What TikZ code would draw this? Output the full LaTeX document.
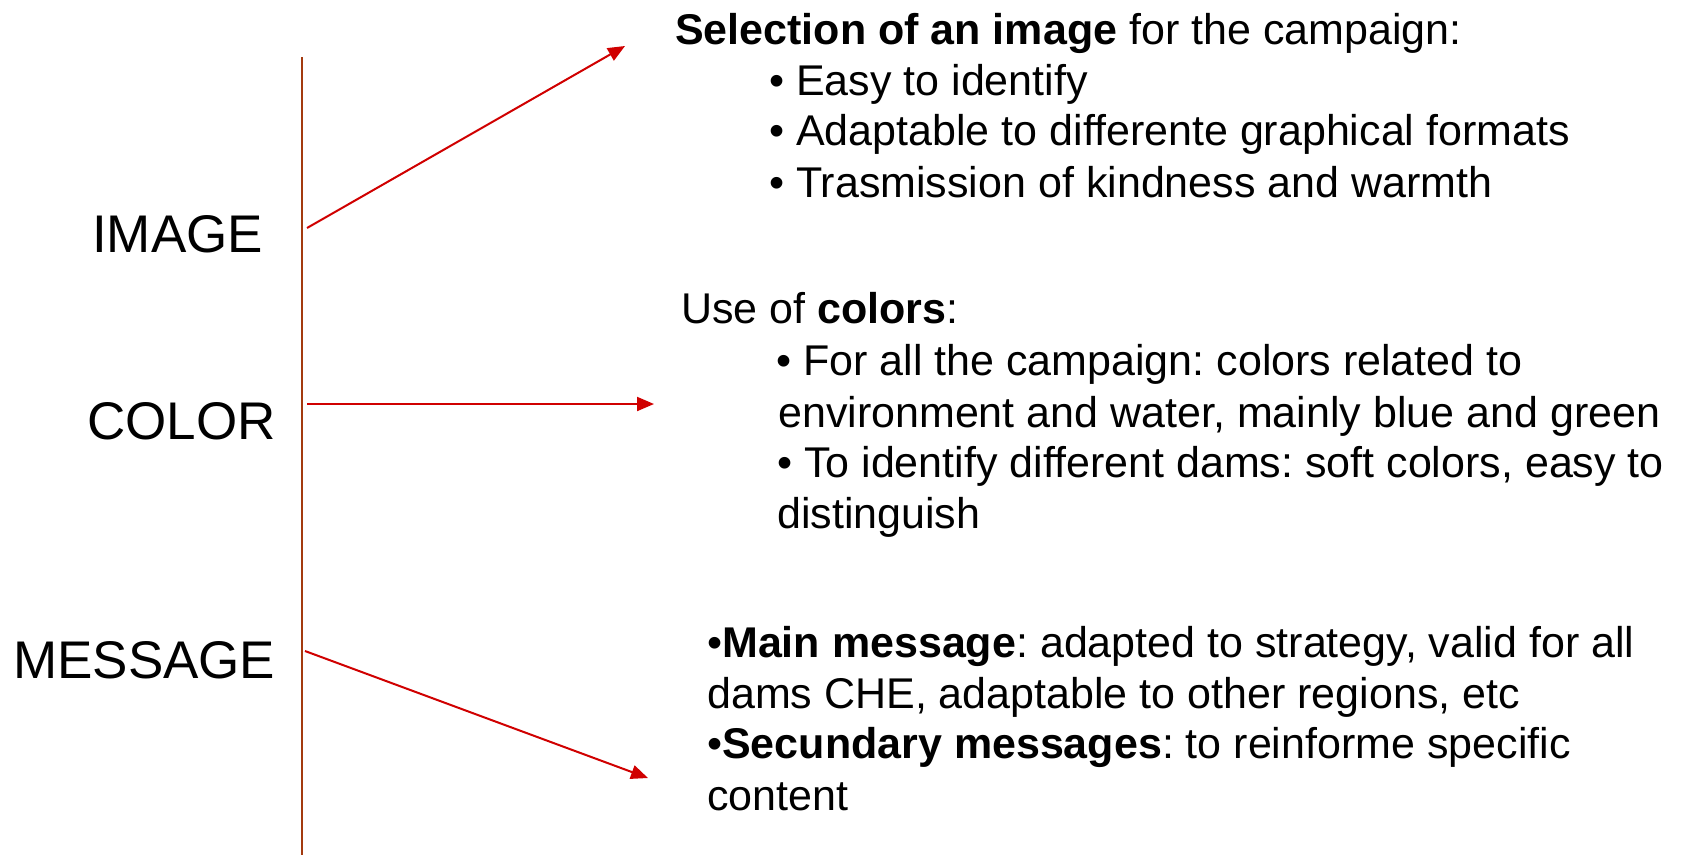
\documentclass[tikz,border=0pt]{standalone}
\usepackage{fontspec}
\setmainfont{Liberation Sans}
\usetikzlibrary{arrows.meta}
\definecolor{axisbrown}{HTML}{A33A0F}
\definecolor{arrred}{HTML}{D00000}
\tikzset{
  lbl/.style={anchor=base west, inner sep=0pt, font=\fontsize{53}{60}\selectfont},
  txt/.style={anchor=base west, inner sep=0pt, font=\fontsize{43}{51}\selectfont},
  conn/.style={draw=arrred, line width=2pt, -{Triangle[length=17pt,width=14pt]}},
  axis/.style={draw=axisbrown, line width=2pt}
}
\frenchspacing
\begin{document}
\begin{tikzpicture}[x=1pt,y=-1pt]
\useasboundingbox (0,0) rectangle (1685,855);
% axis
\coordinate (axtop) at (302,57);
\coordinate (axbot) at (302,855);
\draw[axis] (axtop) -- (axbot);
% labels
\node[lbl] (image) at (92,252.7) {IMAGE};
\node[lbl] (color) at (87,439.3) {COLOR};
\node[lbl] (message) at (13,678.3) {MESSAGE};
% block 1
\node[txt] (s1) at (675,44) {\textbf{Selection of an image} for the campaign:};
\node[txt] (s2) at (769,95) {• Easy to identify};
\node[txt] (s3) at (769,145.7) {• Adaptable to differente graphical formats};
\node[txt] (s4) at (769,197.3) {• Trasmission of kindness and warmth};
% block 2
\node[txt] (c1) at (681,323.3) {Use of \textbf{colors}:};
\node[txt] (c2) at (776,375.7) {• For all the campaign: colors related to};
\node[txt] (c3) at (778,427) {environment and water, mainly blue and green};
\node[txt] (c4) at (777,477.3) {• To identify different dams: soft colors, easy to};
\node[txt] (c5) at (777,528.3) {distinguish};
% block 3
\node[txt] (m1) at (707,657.3) {•\textbf{Main message}: adapted to strategy, valid for all};
\node[txt] (m2) at (707,708.3) {dams CHE, adaptable to other regions, etc};
\node[txt] (m3) at (707,758.3) {•\textbf{Secundary messages}: to reinforme specific};
\node[txt] (m4) at (707,810) {content};
% connectors
\coordinate (a1s) at (307,228);
\coordinate (a1e) at (625,46);
\coordinate (a2s) at (307,404);
\coordinate (a2e) at (654,404);
\coordinate (a3s) at (305,651);
\coordinate (a3e) at (648,778);
\draw[conn] (a1s) -- (a1e);
\draw[conn] (a2s) -- (a2e);
\draw[conn] (a3s) -- (a3e);
\end{tikzpicture}
\end{document}
